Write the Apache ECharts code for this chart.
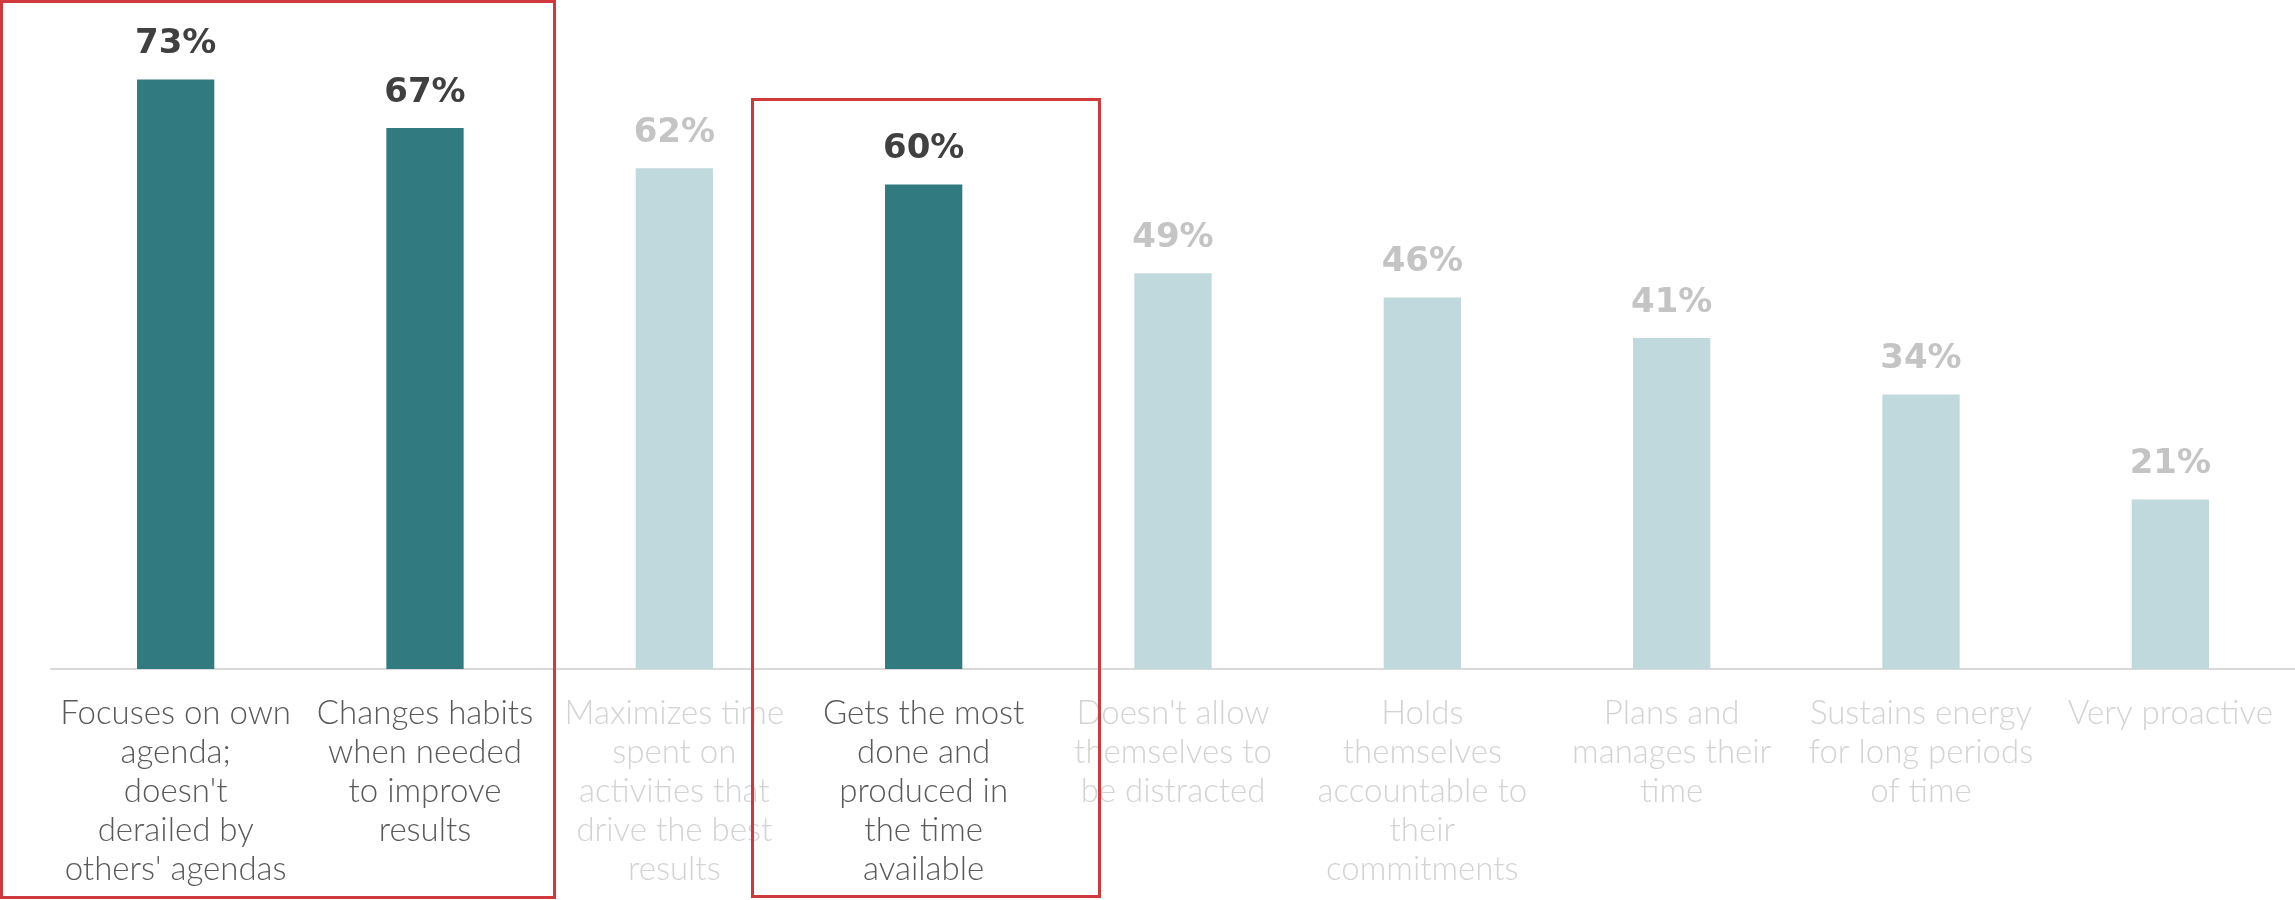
<!DOCTYPE html>
<html>
<head>
<meta charset="utf-8">
<script src="https://cdn.jsdelivr.net/npm/echarts@6/dist/echarts.min.js"></script>
<style>
  html, body { margin: 0; padding: 0; background: #ffffff; }
  #chart { width: 2295px; height: 900px; }
</style>
</head>
<body>
<div id="chart"></div>
<script>
// Time-management behaviours and the share of respondents showing each
const categories = [
  "Focuses on own\nagenda;\ndoesn't\nderailed by\nothers' agendas",
  "Changes habits\nwhen needed\nto improve\nresults",
  "Maximizes time\nspent on\nactivities that\ndrive the best\nresults",
  "Gets the most\ndone and\nproduced in\nthe time\navailable",
  "Doesn't allow\nthemselves to\nbe distracted",
  "Holds\nthemselves\naccountable to\ntheir\ncommitments",
  "Plans and\nmanages their\ntime",
  "Sustains energy\nfor long periods\nof time",
  "Very proactive"
];
const values = [73, 67, 62, 60, 49, 46, 41, 34, 21];
// Behaviours called out in the boxes
const highlighted = [true, true, false, true, false, false, false, false, false];

const TEAL = '#317b80';
const TEAL_LIGHT = '#c0d9dc';
const TEXT_DARK = '#595959';
const TEXT_FADED = '#d3d3d3';
const VALUE_DARK = '#404040';
const VALUE_FADED = '#c4c4c4';

const seriesData = values.map(function (v, i) {
  const on = highlighted[i];
  return {
    value: v,
    itemStyle: { color: on ? TEAL : TEAL_LIGHT },
    label: { color: on ? VALUE_DARK : VALUE_FADED }
  };
});

const chart = echarts.init(document.getElementById('chart'), null, { renderer: 'canvas' });

chart.setOption({
  animation: false,
  backgroundColor: '#ffffff',
  grid: { left: 51, right: -4, top: 23, bottom: 231, containLabel: false },
  xAxis: {
    type: 'category',
    data: categories,
    axisLine: { show: true, lineStyle: { color: '#d9d9d9', width: 2 } },
    axisTick: { show: false },
    axisLabel: {
      interval: 0,
      hideOverlap: false,
      margin: 25,
      fontFamily: 'Lato',
      fontWeight: 300,
      fontSize: 33,
      lineHeight: 39,
      align: 'center',
      color: function (value, index) {
        return highlighted[index] ? TEXT_DARK : TEXT_FADED;
      }
    }
  },
  yAxis: {
    type: 'value',
    min: 0,
    max: 80,
    show: false,
    splitLine: { show: false }
  },
  series: [{
    type: 'bar',
    data: seriesData,
    barWidth: '31%',
    label: {
      show: true,
      position: 'top',
      distance: 18,
      fontFamily: 'DejaVu Sans',
      fontWeight: 'bold',
      fontSize: 34,
      formatter: function (p) { return p.value + '%'; }
    }
  }],
  graphic: [
    {
      type: 'rect',
      shape: { x: 1.5, y: 1.5, width: 553, height: 896 },
      style: { fill: 'none', stroke: '#d0393b', lineWidth: 3 },
      z: 100
    },
    {
      type: 'rect',
      shape: { x: 752.5, y: 99.5, width: 347, height: 797 },
      style: { fill: 'none', stroke: '#d0393b', lineWidth: 3 },
      z: 100
    }
  ]
});
</script>
</body>
</html>
